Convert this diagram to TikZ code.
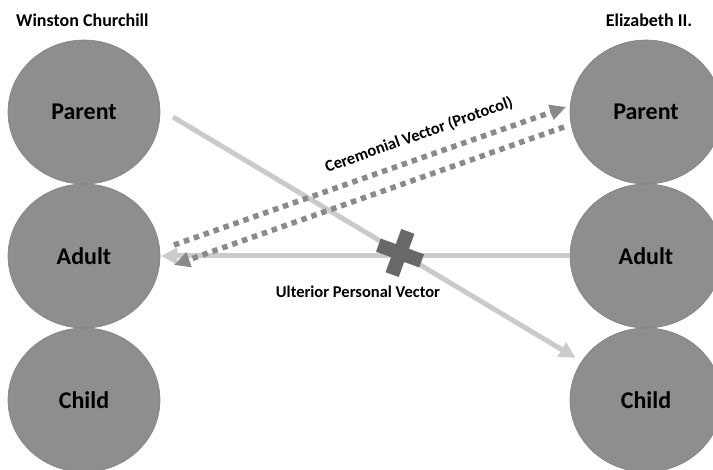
\documentclass[tikz,border=0pt]{standalone}
\usepackage{fontspec}
\setmainfont{Carlito}
\usetikzlibrary{arrows.meta,shapes.geometric}
\definecolor{circfill}{HTML}{8E8E8E}
\definecolor{circline}{HTML}{808080}
\definecolor{lightline}{HTML}{CBCBCB}
\definecolor{dotline}{HTML}{8A8A8A}
\definecolor{crosscol}{HTML}{686868}
\tikzset{
  stage/.style={ellipse, fill=circfill, draw=circline, line width=0.6pt,
    minimum width=152pt, minimum height=144pt, inner sep=0pt,
    font=\fontsize{24}{28}\selectfont\bfseries},
  persontitle/.style={font=\fontsize{18}{22}\selectfont\bfseries, inner sep=0pt},
  vlabel/.style={font=\fontsize{16.5}{20}\selectfont\bfseries, inner sep=0pt},
  lightarrow/.style={draw=lightline, line width=5pt,
    -{Triangle[length=16pt,width=16pt]}},
  dotarrow/.style={draw=dotline, line width=5.5pt, dash pattern=on 5.5pt off 5pt,
    -{Triangle[length=16pt,width=15pt]}},
  crossarm/.style={fill=crosscol, inner sep=0pt, minimum width=46pt,
    minimum height=14pt, rotate=#1}
}
\begin{document}
\begin{tikzpicture}[x=1pt,y=-1pt]
\useasboundingbox (0,0) rectangle (713,470);

% titles
\node[persontitle, anchor=west] (wc) at (16,20) {Winston Churchill};
\node[persontitle] (e2) at (649,20) {Elizabeth II.};

% ego states
\node[stage] (lp) at (84,112) {Parent};
\node[stage] (la) at (84,256) {Adult};
\node[stage] (lc) at (84,400) {Child};
\node[stage] (rp) at (646,112) {Parent};
\node[stage] (ra) at (646,256) {Adult};
\node[stage] (rc) at (646,400) {Child};

% coordinates for free ends
\coordinate (a1s) at (173,117);
\coordinate (d1s) at (174,245);
\coordinate (d1e) at (566,107);
\coordinate (d2s) at (564,127);
\coordinate (d2e) at (174,265);

% ulterior personal vector (Parent -> Child)
\draw[lightarrow, shorten >=7pt] (a1s) -- (rc);
% adult -> adult
\draw[lightarrow, shorten >=1pt] (ra) -- (la);

% ceremonial vector (dotted)
\draw[dotarrow] (d1s) -- (d1e);
\draw[dotarrow] (d2s) -- (d2e);

% labels
\node[vlabel, rotate=19.6] (cvl) at (419,135) {Ceremonial Vector (Protocol)};
\node[vlabel] (upl) at (358,292) {Ulterior Personal Vector};

% cross
\node[crossarm=-20] (cx1) at (400,253) {};
\node[crossarm=70] (cx2) at (400,253) {};
\end{tikzpicture}
\end{document}
